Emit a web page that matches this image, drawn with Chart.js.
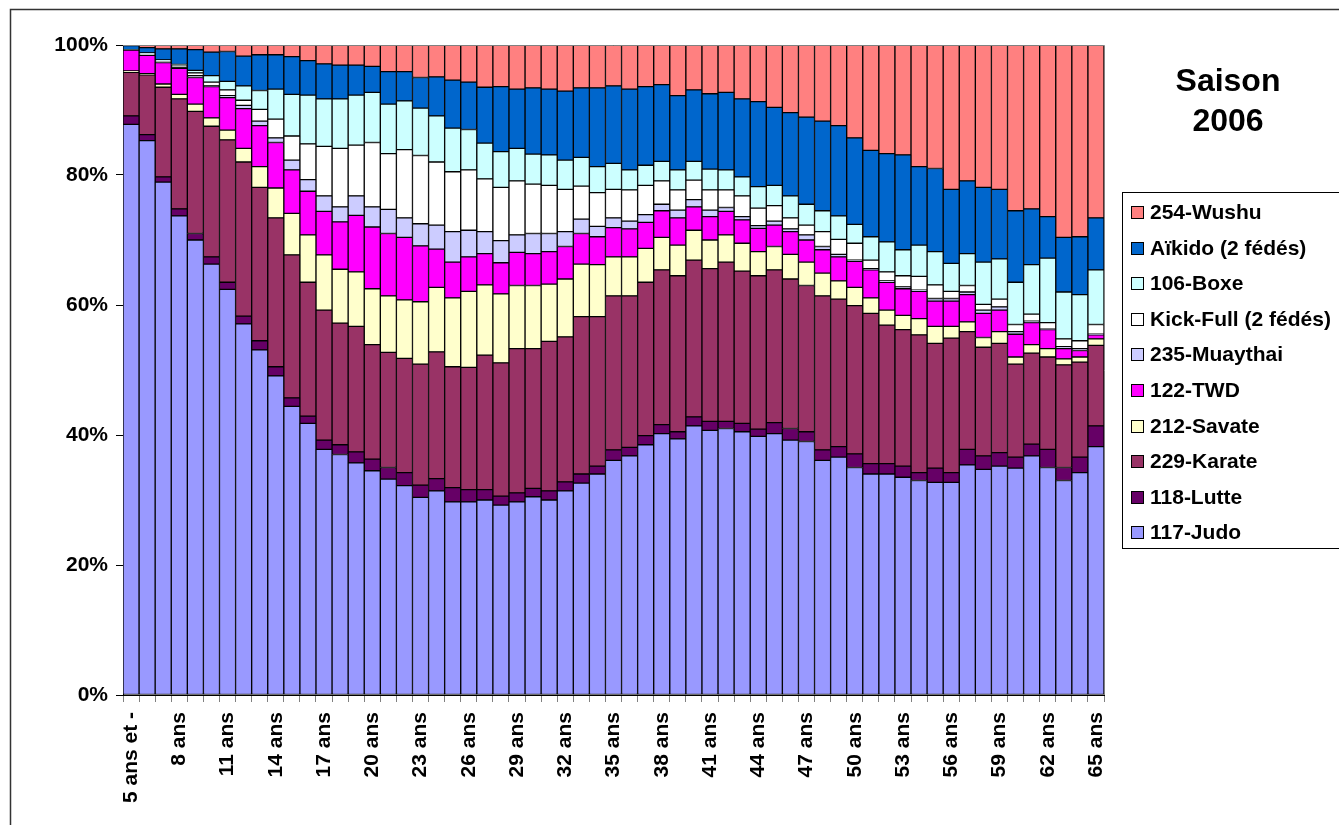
<!DOCTYPE html>
<html>
<head>
<meta charset="utf-8">
<script src="https://cdn.jsdelivr.net/npm/chart.js@4"></script>
<style>
  body { margin: 0; background: #fff; }
  canvas { display: block; }
</style>
</head>
<body>
<canvas id="ages" width="1339" height="825"></canvas>
<script>
const ages = ["5 ans et -", "6 ans", "7 ans", "8 ans", "9 ans", "10 ans", "11 ans", "12 ans", "13 ans", "14 ans",
  "15 ans", "16 ans", "17 ans", "18 ans", "19 ans", "20 ans", "21 ans", "22 ans", "23 ans", "24 ans",
  "25 ans", "26 ans", "27 ans", "28 ans", "29 ans", "30 ans", "31 ans", "32 ans", "33 ans", "34 ans",
  "35 ans", "36 ans", "37 ans", "38 ans", "39 ans", "40 ans", "41 ans", "42 ans", "43 ans", "44 ans",
  "45 ans", "46 ans", "47 ans", "48 ans", "49 ans", "50 ans", "51 ans", "52 ans", "53 ans", "54 ans",
  "55 ans", "56 ans", "57 ans", "58 ans", "59 ans", "60 ans", "61 ans", "62 ans", "63 ans", "64 ans",
  "65 ans"];

// part de chaque fédération par âge, en %
const judo = [87.8, 85.3, 78.9, 73.7, 70.0, 66.3, 62.4, 57.1, 53.1, 49.1, 44.4, 41.8, 37.8, 37.0, 35.7, 34.5, 33.2, 32.2, 30.4, 31.4,
  29.7, 29.7, 30.0, 29.2, 29.7, 30.5, 30.0, 31.4, 32.6, 34.0, 36.1, 36.8, 38.5, 40.2, 39.4, 41.4, 40.7, 41.0, 40.5, 39.8,
  40.2, 39.2, 39.0, 36.1, 36.6, 35.0, 34.0, 34.0, 33.5, 33.0, 32.7, 32.7, 35.4, 34.7, 35.2, 34.9, 36.8, 35.0, 33.0, 34.2, 38.2];
const lutte = [1.3, 0.9, 0.8, 1.1, 1.0, 1.1, 1.1, 1.2, 1.4, 1.4, 1.3, 1.1, 1.4, 1.5, 1.7, 1.8, 1.8, 2.0, 1.9, 1.9,
  2.2, 1.9, 1.6, 1.4, 1.4, 1.3, 1.4, 1.4, 1.4, 1.2, 1.6, 1.3, 1.4, 1.4, 1.1, 1.4, 1.4, 1.1, 1.3, 1.1,
  1.7, 1.8, 1.5, 1.6, 1.6, 2.1, 1.6, 1.6, 1.7, 1.2, 2.2, 1.5, 2.4, 2.1, 2.1, 1.7, 1.8, 2.8, 2.0, 2.4, 3.2];
const karate = [6.7, 9.2, 13.8, 16.9, 18.8, 20.1, 21.9, 23.7, 23.6, 22.9, 22.0, 20.6, 20.0, 18.7, 19.3, 17.6, 17.7, 17.6, 18.6, 19.5,
  18.6, 18.8, 20.7, 20.5, 22.2, 21.5, 23.0, 22.3, 24.2, 23.0, 23.7, 23.3, 23.6, 23.8, 24.0, 24.1, 23.5, 24.5, 23.4, 23.6,
  23.5, 23.0, 22.5, 23.7, 22.7, 22.8, 23.1, 21.3, 21.0, 21.2, 19.2, 20.7, 18.1, 16.7, 16.8, 14.3, 14.0, 14.2, 15.8, 14.6, 12.4];
const savate = [0.2, 0.2, 0.5, 0.7, 1.1, 1.3, 1.5, 2.1, 3.2, 4.6, 6.4, 7.3, 8.5, 8.3, 8.4, 8.6, 8.7, 9.0, 9.6, 9.9,
  10.6, 11.7, 10.8, 10.6, 9.7, 9.7, 8.8, 8.9, 8.1, 8.0, 6.0, 6.0, 5.2, 5.0, 4.7, 4.6, 4.4, 4.2, 4.3, 3.7,
  3.6, 3.8, 3.6, 3.5, 2.8, 2.8, 2.4, 2.3, 2.2, 2.5, 2.6, 1.8, 1.5, 1.5, 1.8, 1.1, 1.3, 1.3, 0.9, 0.8, 1.0];
const twd = [3.2, 2.8, 3.3, 4.0, 4.1, 4.8, 5.0, 6.1, 6.3, 7.0, 6.7, 6.7, 6.7, 7.3, 8.7, 9.5, 9.6, 9.6, 8.6, 5.9,
  5.5, 5.3, 4.8, 4.8, 5.1, 4.9, 5.0, 5.0, 4.7, 4.3, 4.5, 4.3, 4.0, 4.1, 4.2, 3.6, 3.6, 3.6, 3.6, 3.6,
  3.3, 3.5, 3.4, 3.6, 3.7, 4.0, 4.3, 4.3, 4.1, 4.2, 3.9, 3.9, 4.2, 3.7, 3.3, 3.5, 3.4, 2.9, 1.6, 1.0, 0.6];
const muaythai = [0.0, 0.1, 0.1, 0.1, 0.3, 0.1, 0.3, 0.5, 0.7, 0.7, 1.5, 1.8, 2.4, 2.3, 3.0, 3.1, 3.7, 3.0, 3.4, 3.7,
  4.7, 4.1, 3.4, 3.4, 2.7, 3.1, 2.8, 2.3, 2.2, 1.6, 1.5, 1.2, 1.2, 1.0, 1.2, 1.1, 1.0, 0.6, 0.5, 0.4,
  0.6, 0.4, 0.8, 0.5, 0.4, 0.2, 0.2, 0.2, 0.3, 0.2, 0.4, 0.4, 0.4, 0.5, 0.5, 0.4, 0.2, 0.1, 0.3, 0.3, 0.1];
const kickFull = [0.0, 0.1, 0.1, 0.3, 0.4, 0.6, 0.9, 0.8, 1.8, 2.9, 3.7, 5.5, 7.6, 9.0, 7.8, 9.9, 8.6, 10.5, 10.5, 9.7,
  9.2, 9.3, 8.1, 8.2, 8.3, 7.6, 7.4, 6.5, 5.1, 5.2, 4.4, 4.8, 4.5, 3.6, 3.1, 3.0, 3.1, 2.7, 3.2, 2.7,
  2.4, 1.7, 1.5, 2.3, 2.3, 2.6, 1.3, 1.4, 1.7, 2.1, 2.1, 1.1, 1.0, 0.9, 1.2, 1.1, 1.1, 1.0, 1.2, 1.2, 1.5];
const boxe = [0.1, 0.2, 0.2, 0.2, 0.4, 1.0, 1.3, 2.2, 2.9, 4.6, 6.4, 7.5, 7.3, 7.6, 7.7, 7.7, 7.6, 7.5, 7.3, 7.1,
  6.7, 6.2, 5.5, 5.5, 5.0, 4.6, 4.7, 4.5, 4.4, 4.0, 4.0, 3.1, 3.1, 3.0, 3.1, 2.9, 3.2, 3.1, 2.9, 3.3,
  3.1, 3.4, 3.2, 3.2, 3.6, 2.9, 3.6, 4.6, 4.0, 4.8, 5.1, 4.3, 4.9, 6.5, 6.2, 6.5, 7.6, 9.9, 7.2, 7.1, 8.4];
const aikido = [0.6, 0.8, 1.7, 2.4, 3.2, 3.6, 4.6, 4.6, 5.5, 5.3, 5.8, 5.3, 5.4, 5.2, 4.6, 4.0, 5.0, 4.5, 4.7, 6.0,
  7.4, 7.3, 8.6, 10.0, 9.1, 10.2, 10.1, 10.6, 10.7, 12.1, 11.9, 12.4, 12.1, 11.8, 11.4, 11.0, 11.6, 11.9, 12.0, 13.1,
  12.0, 12.8, 13.4, 13.8, 13.9, 13.3, 13.3, 13.6, 14.6, 12.1, 12.8, 11.4, 11.2, 11.5, 10.7, 11.0, 8.6, 6.4, 8.4, 8.9, 8.0];
const wushu = [0.1, 0.4, 0.6, 0.6, 0.7, 1.1, 1.0, 1.7, 1.5, 1.5, 1.8, 2.4, 2.9, 3.1, 3.1, 3.3, 4.1, 4.1, 5.0, 4.9,
  5.4, 5.7, 6.5, 6.4, 6.8, 6.6, 6.8, 7.1, 6.6, 6.6, 6.3, 6.8, 6.4, 6.1, 7.8, 6.9, 7.5, 7.3, 8.3, 8.7,
  9.6, 10.4, 11.1, 11.7, 12.4, 14.3, 16.2, 16.7, 16.9, 18.7, 19.0, 22.2, 20.9, 21.9, 22.2, 25.5, 25.2, 26.4, 29.6, 29.5, 26.6];

const yTicks = [0, 20, 40, 60, 80, 100];
const titleLines = ["Saison", "2006"];

const series = [
  { label: "117-Judo", data: judo, color: "#9999ff" },
  { label: "118-Lutte", data: lutte, color: "#660066" },
  { label: "229-Karate", data: karate, color: "#993366" },
  { label: "212-Savate", data: savate, color: "#ffffcc" },
  { label: "122-TWD", data: twd, color: "#ff00ff" },
  { label: "235-Muaythai", data: muaythai, color: "#ccccff" },
  { label: "Kick-Full (2 fédés)", data: kickFull, color: "#ffffff" },
  { label: "106-Boxe", data: boxe, color: "#ccffff" },
  { label: "Aïkido (2 fédés)", data: aikido, color: "#0066cc" },
  { label: "254-Wushu", data: wushu, color: "#ff8080" }
];

const FONT = "'Liberation Sans', Arial, sans-serif";

const decor = {
  id: "decor",
  afterDatasetsDraw(chart) {
    const { ctx, chartArea: a } = chart;
    ctx.save();
    ctx.strokeStyle = "#808080";
    ctx.lineWidth = 1;
    ctx.beginPath();
    ctx.moveTo(a.left, a.top + 0.5);
    ctx.lineTo(a.right + 0.5, a.top + 0.5);
    ctx.lineTo(a.right + 0.5, a.bottom);
    ctx.stroke();
    ctx.restore();
  },
  afterDraw(chart) {
    const ctx = chart.ctx;
    ctx.save();
    // cadre extérieur
    ctx.strokeStyle = "#333";
    ctx.lineWidth = 1.5;
    ctx.strokeRect(10.5, 9.5, 1400, 900);

    // titre
    ctx.fillStyle = "#000";
    ctx.font = "bold 32px " + FONT;
    ctx.textAlign = "center";
    ctx.textBaseline = "alphabetic";
    ctx.fillText(titleLines[0], 1228, 91);
    ctx.fillText(titleLines[1], 1228, 131);

    // légende
    ctx.lineWidth = 1;
    ctx.strokeStyle = "#000";
    ctx.strokeRect(1122.5, 192.5, 300, 356);
    ctx.font = "bold 21px " + FONT;
    ctx.textAlign = "left";
    ctx.textBaseline = "middle";
    const ds = chart.data.datasets;
    for (let k = 0; k < ds.length; k++) {
      const d = ds[ds.length - 1 - k];
      const cy = Math.round(212 + k * 35.6);
      ctx.fillStyle = d.backgroundColor;
      ctx.fillRect(1131, cy - 6, 12, 12);
      ctx.strokeRect(1131.5, cy - 5.5, 12, 12);
      ctx.fillStyle = "#000";
      ctx.fillText(d.label, 1150, cy + 1);
    }
    ctx.restore();
  }
};

new Chart(document.getElementById("ages"), {
  type: "bar",
  data: {
    labels: ages,
    datasets: series.map(s => ({
      label: s.label,
      data: s.data,
      backgroundColor: s.color,
      borderColor: "#000",
      borderWidth: 1,
      borderSkipped: false,
      barPercentage: 1,
      categoryPercentage: 1
    }))
  },
  options: {
    responsive: false,
    animation: false,
    layout: { padding: { top: 45, right: 235, left: 0, bottom: 0 } },
    plugins: { legend: { display: false }, tooltip: { enabled: false } },
    scales: {
      x: {
        stacked: true,
        grid: { drawOnChartArea: false, offset: true, tickLength: 7, color: "#808080" },
        border: { color: "#000", width: 1 },
        ticks: {
          autoSkip: false,
          maxRotation: 90,
          minRotation: 90,
          padding: 10,
          color: "#000",
          font: { family: FONT, size: 21, weight: "bold" },
          callback: (v, i) => (i % 3 === 0 ? ages[i] : "")
        },
        afterFit: s => { s.height = 130; }
      },
      y: {
        stacked: true,
        min: 0,
        max: 100,
        afterBuildTicks: s => { s.ticks = yTicks.map(v => ({ value: v })); },
        grid: { drawOnChartArea: false, tickLength: 7, color: "#000" },
        border: { color: "#000", width: 1 },
        ticks: {
          padding: 8,
          color: "#000",
          font: { family: FONT, size: 21, weight: "bold" },
          callback: v => v + "%"
        },
        afterFit: s => { s.width = 123; }
      }
    }
  },
  plugins: [decor]
});
</script>
</body>
</html>
